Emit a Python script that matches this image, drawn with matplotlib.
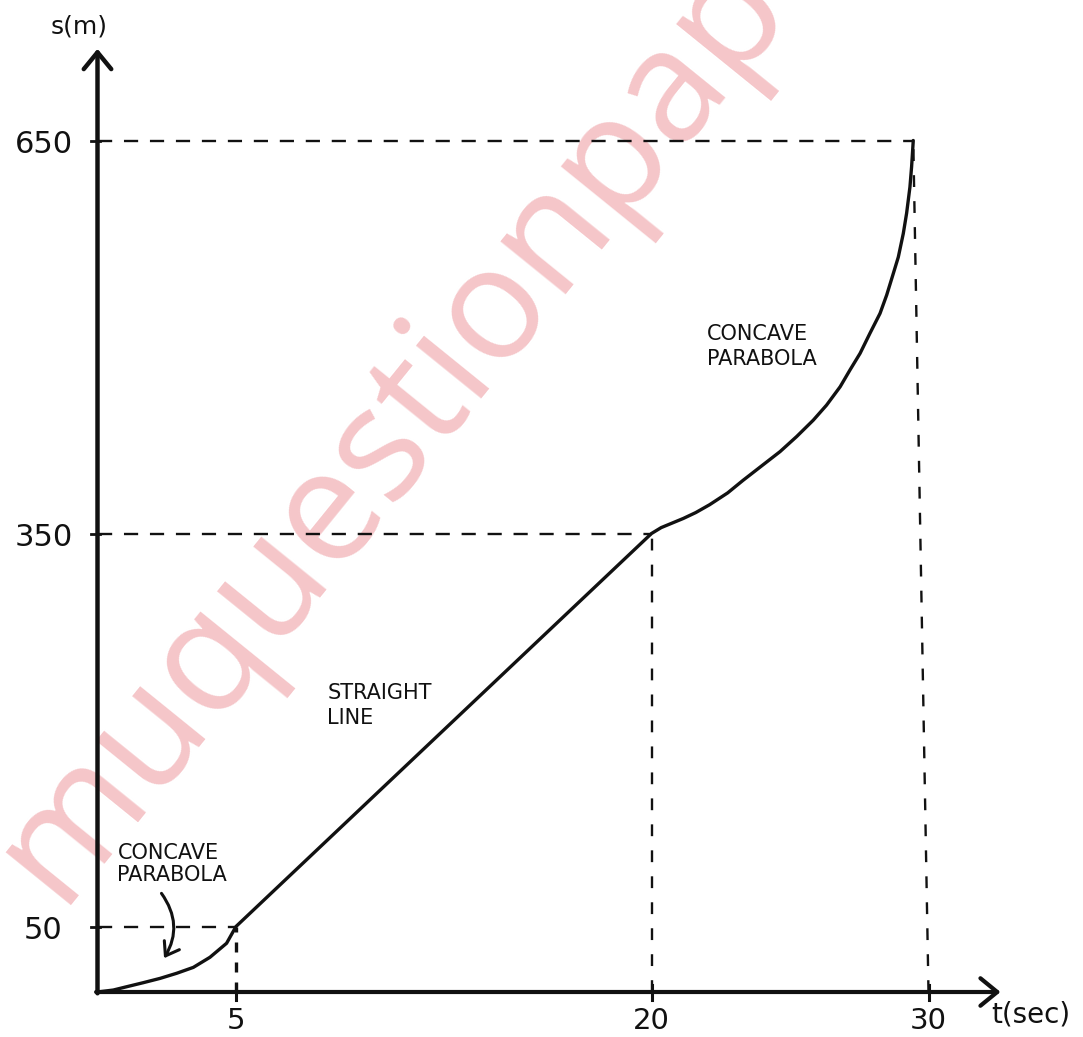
import matplotlib
matplotlib.use("Agg")
import matplotlib.pyplot as plt
from matplotlib.patches import FancyArrowPatch

# ---- data ----
t_curve = [0, 0.57, 1.05, 1.65, 2.26, 2.86, 3.46, 4.06, 4.66, 5.0,
           20.0, 20.35, 20.75, 21.15, 21.6, 22.1, 22.75, 23.3, 24.0, 24.64, 25.24, 25.84,
           26.32, 26.81, 27.17, 27.53, 27.89, 28.25, 28.49, 28.73, 28.91, 29.09, 29.21,
           29.33, 29.39, 29.45]
s_curve = [0, 1.5, 4.0, 7.1, 10.4, 14.3, 18.8, 26.5, 37.2, 50,
           350, 354.5, 358, 361.5, 366, 372, 381, 390.5, 402, 412.5, 424, 436.5,
           448, 462, 475, 487.5, 503, 518, 532, 548.5, 561, 579, 594.5,
           614.5, 630, 650]

key_t = [5, 20, 29.45]          # where the dashed guides start on the curve
key_s = [50, 350, 650]
x_ticks = [5, 20, 30]
x_tick_labels = ["5", "20", "30"]
y_ticks = [50, 350, 650]
y_tick_labels = ["50", "350", "650"]

# ---- figure ----
W, H = 1083, 1037
fig = plt.figure(figsize=(W / 100, H / 100), dpi=100)
ax = fig.add_axes([0, 0, 1, 1])
ax.axis("off")

x0, xs = 97.5, 27.7     # pixel origin / pixels per second
y0, ys = 992.0, 1.31    # pixel origin / pixels per metre
ax.set_xlim(-x0 / xs, (W - x0) / xs)
ax.set_ylim(-(H - y0) / ys, y0 / ys)

# watermark
ax.text(58 / W, 1 - 905 / H, "muquestionpapers", transform=ax.transAxes,
        rotation=51, rotation_mode="anchor", ha="left", va="baseline",
        fontsize=113, color="#f5c6c9", family="Open Sans", fontweight="normal",
        zorder=0)

black = "#111111"

# axes with arrows
ax.annotate("", xy=(0, 720), xytext=(0, -1),
            arrowprops=dict(arrowstyle="->,head_length=0.55,head_width=0.45",
                            lw=3.2, color=black, mutation_scale=22, shrinkA=0, shrinkB=0),
            zorder=3)
ax.annotate("", xy=(32.6, 0), xytext=(-0.05, 0),
            arrowprops=dict(arrowstyle="->,head_length=0.55,head_width=0.45",
                            lw=3.0, color=black, mutation_scale=22, shrinkA=0, shrinkB=0),
            zorder=3)

# small tick marks on the axes
for t in x_ticks:
    ax.plot([t, t], [-6, 5], color=black, lw=2.2, zorder=3)
for s in y_ticks:
    ax.plot([-0.25, 0.1], [s, s], color=black, lw=2.0, zorder=3)

# dashed guides
dash_h = (0, (6, 5))
ax.plot([0, key_t[0]], [key_s[0], key_s[0]], ls=dash_h, lw=1.7, color=black, zorder=2)
ax.plot([0, key_t[1]], [key_s[1], key_s[1]], ls=dash_h, lw=1.7, color=black, zorder=2)
ax.plot([0, key_t[2]], [key_s[2], key_s[2]], ls=dash_h, lw=1.7, color=black, zorder=2)
ax.plot([x_ticks[0], x_ticks[0]], [0, key_s[0]], ls=(0, (3, 3)), lw=2.4, color=black, zorder=2)
ax.plot([x_ticks[1], x_ticks[1]], [0, key_s[1]], ls=(0, (5, 6)), lw=1.7, color=black, zorder=2)
ax.plot([x_ticks[2], key_t[2]], [0, key_s[2]], ls=(0, (5, 6)), lw=1.7, color=black, zorder=2)

# curve
ax.plot(t_curve, s_curve, color=black, lw=2.4, solid_capstyle="round",
        solid_joinstyle="round", zorder=4)

# tick labels
for t, lab in zip(x_ticks, x_tick_labels):
    ax.text(t, -22, lab, ha="center", va="center", fontsize=21, color=black)
for s, lab in zip(y_ticks, y_tick_labels):
    ax.text(-1.95, s - 3, lab, ha="center", va="center", fontsize=22, color=black)

# axis titles
ax.text(-0.65, 737, "s(m)", ha="center", va="center", fontsize=18, color=black)
ax.text(33.7, -17, "t(sec)", ha="center", va="center", fontsize=20, color=black)

# annotations
ax.text(8.3, 236, "STRAIGHT\nLINE", ha="left", va="top", fontsize=15,
        color=black, linespacing=1.3)
ax.text(22.0, 510, "CONCAVE\nPARABOLA", ha="left", va="top", fontsize=15,
        color=black, linespacing=1.3)
ax.text(0.72, 114, "CONCAVE\nPARABOLA", ha="left", va="top", fontsize=15,
        color=black, linespacing=1.15)

arr = FancyArrowPatch((2.25, 77), (2.35, 24), connectionstyle="arc3,rad=-0.35",
                      arrowstyle="->,head_length=0.5,head_width=0.35",
                      mutation_scale=18, lw=2.2, color=black, zorder=5)
ax.add_patch(arr)

fig.savefig("out.png", dpi=100)
